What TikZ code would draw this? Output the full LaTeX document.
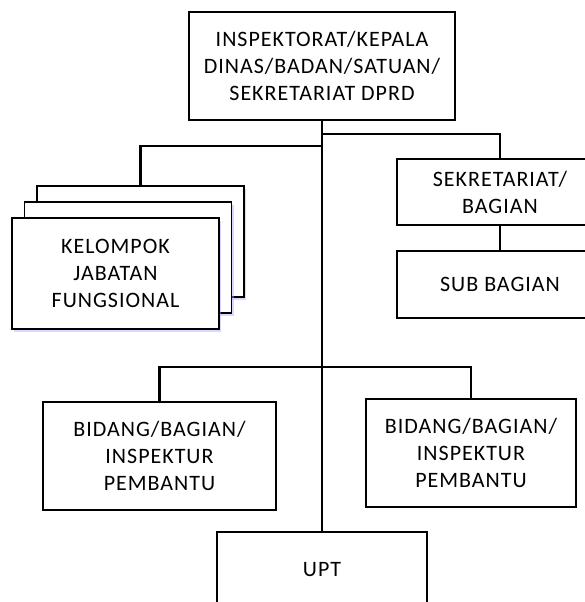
\documentclass[tikz,border=0pt]{standalone}
\usepackage{fontspec}
\setmainfont{Carlito}[LetterSpace=4.5]
\usetikzlibrary{positioning,shadows}
\tikzstyle{unit} = [draw,line width=1.7pt,rectangle,inner sep=0,fill=white,align=center,font=\fontsize{22}{27}\selectfont]
\tikzstyle{stack} = [unit,minimum width=207pt,minimum height=111pt,drop shadow={shadow xshift=2pt,shadow yshift=-3pt,fill=blue!35!white,opacity=0.45}]
\tikzstyle{link} = [-,line width=2.8pt]
\def \gap {24pt}

\begin{document}
\begin{tikzpicture}[x=1pt,y=-1pt]
      \useasboundingbox (0,0) rectangle (585,602);
      \clip (0,0) rectangle (585,602);
      \node[unit,minimum width=266pt,minimum height=108pt] (kepala) at (322,66) {INSPEKTORAT/KEPALA\\DINAS/BADAN/SATUAN/\\SEKRETARIAT DPRD};
      \node[unit,minimum width=206pt,minimum height=66pt] (sekret) at (500,192) {SEKRETARIAT/\\BAGIAN};
      \node[unit,minimum width=206pt,minimum height=67pt,below=\gap of sekret] (subbag) {SUB BAGIAN};
      \node[stack] (fungsiC) at (140.5,241.5) {};
      \node[stack] (fungsiB) at (128,257.5) {};
      \node[stack] (fungsiA) at (115.5,273.5) {KELOMPOK\\JABATAN\\FUNGSIONAL};
      \node[unit,minimum width=233pt,minimum height=108pt] (bidang1) at (159.5,456) {BIDANG/BAGIAN/\\INSPEKTUR\\PEMBANTU};
      \node[unit,minimum width=210pt,minimum height=108pt] (bidang2) at (471,453) {BIDANG/BAGIAN/\\INSPEKTUR\\PEMBANTU};
      \node[unit,minimum width=210pt,minimum height=76pt] (upt) at (322,570) {UPT};
      \coordinate (jr) at (322,134);
      \coordinate (jl) at (322,146);
      \coordinate (jb) at (322,367);
      \draw[link] (kepala.south) -- (upt.north);
      \draw[link] (jr) -| (sekret.north);
      \draw[link] (jl) -| (fungsiC.north);
      \draw[link] (sekret.south) -- (subbag.north);
      \draw[link] (bidang1.north) |- (jb) -| (bidang2.north);
\end{tikzpicture}
\end{document}
